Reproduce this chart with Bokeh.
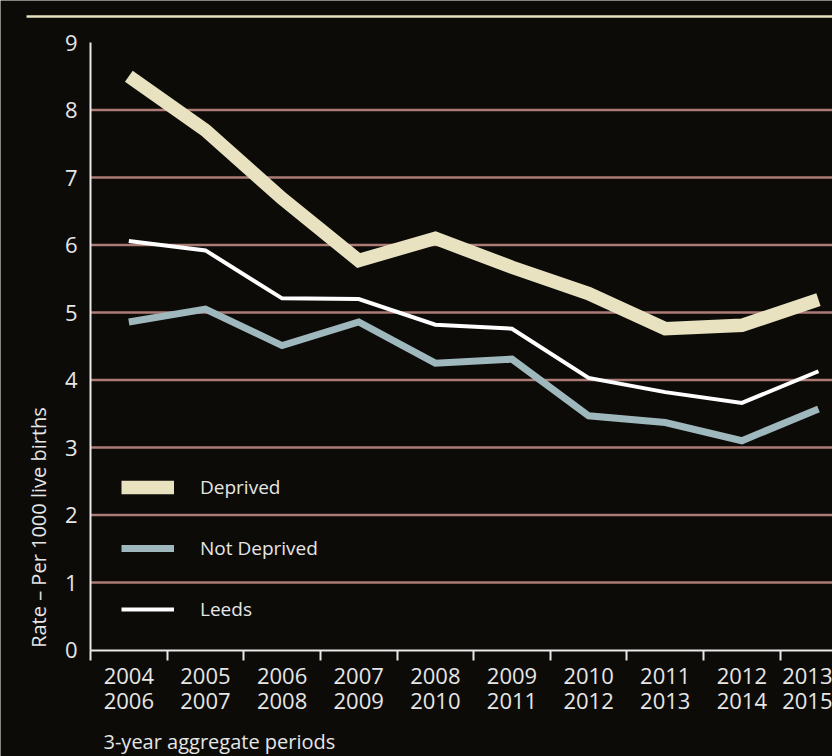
import math
from bokeh.plotting import figure
from bokeh.models import Range1d, FixedTicker, Legend, LegendItem, Label
from bokeh.embed import file_html
from bokeh.resources import INLINE

# ---- data ----
categories = ["2004\n2006", "2005\n2007", "2006\n2008", "2007\n2009", "2008\n2010",
              "2009\n2011", "2010\n2012", "2011\n2013", "2012\n2014", "2013\n2015"]
deprived = [8.50, 7.70, 6.69, 5.77, 6.10, 5.67, 5.28, 4.76, 4.81, 5.19]
not_deprived = [4.86, 5.05, 4.51, 4.86, 4.25, 4.31, 3.47, 3.37, 3.10, 3.57]
leeds = [6.06, 5.92, 5.21, 5.20, 4.82, 4.76, 4.03, 3.82, 3.66, 4.13]
y_ticks = [0, 1, 2, 3, 4, 5, 6, 7, 8, 9]
y_title = "Rate \u2013 Per 1000 live births"
x_title = "3-year aggregate periods"

# ---- styles ----
BG = "#0c0b08"
CREAM = "#e8e2c0"
BLUE = "#9fb8bd"
WHITE = "#ffffff"
GRID = "#ad7b76"
AXIS = "#e8e8e8"
TXT = "#e6e6e6"
FONT = "Open Sans"

# canvas geometry: one category = 76.63 px, one rate unit = 67.5 px
X0, X1 = -90 / 76.63, 742 / 76.63
Y0, Y1 = -(756 - 649.5) / 67.5, 649.5 / 67.5

xs = [i + 0.5 for i in range(len(categories))]
grid_vals = [t for t in y_ticks if 0 < t < 9]

p = figure(width=832, height=756,
           x_range=Range1d(X0, X1), y_range=Range1d(Y0, Y1),
           toolbar_location=None, output_backend="svg",
           min_border=0, min_border_left=0, min_border_right=0,
           min_border_top=0, min_border_bottom=0,
           background_fill_color=BG, border_fill_color=BG, outline_line_color=None)
p.grid.visible = False

# top rule
p.segment(x0=[-64 / 76.63], y0=[(649.5 - 16) / 67.5], x1=[X1], y1=[(649.5 - 16) / 67.5],
          line_color=CREAM, line_width=2.5)

# horizontal gridlines from the tick list
p.segment(x0=[0] * len(grid_vals), y0=grid_vals, x1=[X1] * len(grid_vals), y1=grid_vals,
          line_color=GRID, line_width=2.5)

# series
r_dep = p.line(xs, deprived, line_color=CREAM, line_width=13.5, line_join="miter", line_cap="butt")
r_nd = p.line(xs, not_deprived, line_color=BLUE, line_width=7, line_join="miter", line_cap="butt")
r_le = p.line(xs, leeds, line_color=WHITE, line_width=4, line_join="miter", line_cap="butt")

# y axis (fixed inside the full-canvas frame)
p.yaxis.fixed_location = 0
p.yaxis.ticker = FixedTicker(ticks=y_ticks)
p.yaxis.bounds = (0, 9)
p.yaxis.axis_line_color = AXIS
p.yaxis.axis_line_width = 2
p.yaxis.major_tick_out = 0
p.yaxis.major_tick_in = 0
p.yaxis.minor_tick_line_color = None
p.yaxis.major_label_standoff = 13
p.yaxis.major_label_text_font = FONT
p.yaxis.major_label_text_font_size = "22px"
p.yaxis.major_label_text_color = TXT

# x axis
p.xaxis.fixed_location = 0
p.xaxis.ticker = FixedTicker(ticks=xs, minor_ticks=list(range(len(categories) + 1)))
p.xaxis.major_label_overrides = {x: c for x, c in zip(xs, categories)}
p.xaxis.bounds = (0, X1)
p.xaxis.axis_line_color = AXIS
p.xaxis.axis_line_width = 2
p.xaxis.major_tick_out = 0
p.xaxis.major_tick_in = 0
p.xaxis.minor_tick_out = 10
p.xaxis.minor_tick_in = 0
p.xaxis.minor_tick_line_color = AXIS
p.xaxis.minor_tick_line_width = 2
p.xaxis.major_label_standoff = 0
p.xaxis.major_label_text_font = FONT
p.xaxis.major_label_text_font_size = "22px"
p.xaxis.major_label_text_color = TXT
p.xaxis.major_label_text_line_height = 0.82

# axis titles
p.add_layout(Label(x=(38 - 90) / 76.63, y=(649.5 - 527) / 67.5, text=y_title, angle=math.pi / 2,
                   text_align="center", text_baseline="middle",
                   text_font=FONT, text_font_size="20px", text_color=TXT))
p.add_layout(Label(x=(103 - 90) / 76.63, y=(649.5 - 741) / 67.5, text=x_title,
                   text_align="left", text_baseline="middle",
                   text_font=FONT, text_font_size="20px", text_color=TXT))

# legend
legend = Legend(items=[LegendItem(label="Deprived", renderers=[r_dep]),
                       LegendItem(label="Not Deprived", renderers=[r_nd]),
                       LegendItem(label="Leeds", renderers=[r_le])],
                location=(121, 134), orientation="vertical",
                glyph_width=53, glyph_height=20, label_height=20, spacing=35,
                label_standoff=26, padding=0, margin=0,
                border_line_color=None, background_fill_alpha=0,
                label_text_font=FONT, label_text_font_size="19px", label_text_color=TXT)
p.add_layout(legend)

open("out.html", "w").write(file_html(p, INLINE))
